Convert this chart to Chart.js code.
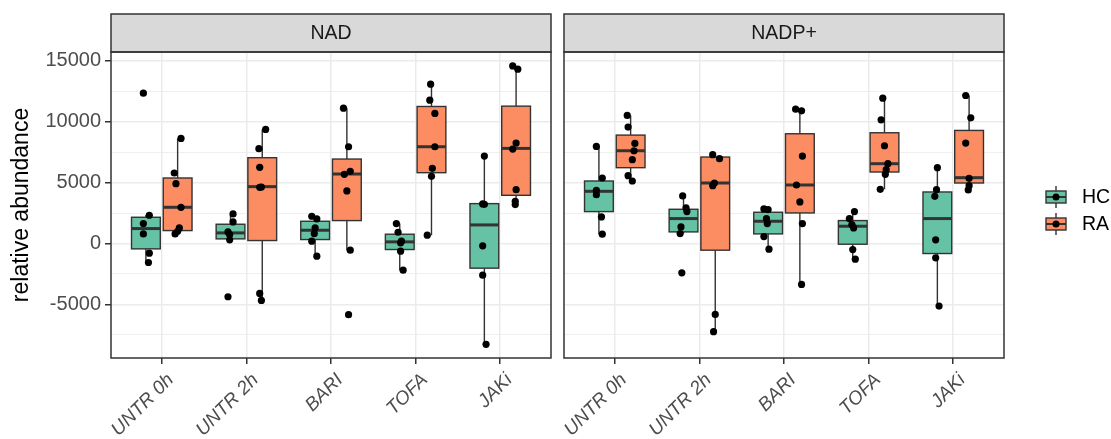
<!DOCTYPE html>
<html>
<head>
<meta charset="utf-8">
<script src="https://cdn.jsdelivr.net/npm/chart.js@4.4.1/dist/chart.umd.min.js"></script>
<style>
  body { margin: 0; background: #fff; }
  #wrap { position: relative; width: 1111px; height: 439px; }
  canvas { position: absolute; top: 0; }
</style>
</head>
<body>
<div id="wrap">
  <canvas id="nad" width="556" height="439" style="left:0"></canvas>
  <canvas id="nadp" width="555" height="439" style="left:556px"></canvas>
</div>
<script>
const categories = ["UNTR 0h", "UNTR 2h", "BARI", "TOFA", "JAKi"];
const groups = ["HC", "RA"];
const groupColors = ["#66c2a5", "#fc8d62"];
const yTicks = [-7500, -5000, -2500, 0, 2500, 5000, 7500, 10000, 12500, 15000];

// NAD, HC
const nadHcLow = [-1557, 301, -1038, -2186, -8278];
const nadHcQ1 = [-437, 383, 328, -492, -2022];
const nadHcMed = [1229, 874, 1093, 137, 1530];
const nadHcQ3 = [2158, 1585, 1830, 765, 3278];
const nadHcHigh = [2322, 2431, 2240, 1639, 7185];
const nadHcPoints = [
  [12349, 2322, 1639, 792, -792, -1557],
  [2431, 1775, 956, 738, 301, -4371],
  [2240, 2021, 1284, 820, 191, -1038],
  [1639, 929, 191, 55, -628, -2186],
  [7185, 3251, 3224, -191, -2595, -8278]
];
const nadHcJitter = [
  [-0.03, 0.04, -0.03, -0.03, 0.04, 0.03],
  [0.03, 0.03, -0.03, -0.01, -0.01, -0.03],
  [-0.04, 0.02, 0, -0.01, -0.04, 0.02],
  [-0.04, -0.02, 0.02, 0.01, 0.01, 0.04],
  [0, -0.02, 0, -0.02, -0.02, 0.02]
];

// NAD, RA
const nadRaLow = [792, -4672, -546, 683, 3196];
const nadRaQ1 = [1065, 246, 1885, 5819, 3961];
const nadRaMed = [2978, 4672, 5710, 7950, 7814];
const nadRaQ3 = [5382, 7049, 6939, 11256, 11283];
const nadRaHigh = [8633, 9371, 11119, 13086, 14589];
const nadRaPoints = [
  [8633, 5792, 4918, 2978, 1284, 1011, 792],
  [9371, 7787, 6256, 4645, 4617, -4098, -4672],
  [11119, 7950, 5928, 5682, 4317, -546, -5846],
  [13086, 11775, 10682, 7950, 6174, 5519, 683],
  [14589, 14316, 8251, 7759, 4426, 3470, 3196]
];
const nadRaJitter = [
  [0.04, -0.04, -0.02, 0.04, 0.02, 0, -0.03],
  [0.04, -0.04, -0.03, -0.01, -0.03, -0.03, -0.01],
  [-0.04, 0.02, 0.04, -0.03, 0, 0.04, 0.02],
  [-0.01, -0.02, 0.04, 0.04, 0.01, 0, -0.05],
  [-0.04, 0.02, 0, -0.04, 0, -0.01, -0.01]
];

// NADP+, HC
const nadpHcLow = [765, 820, -464, -1284, -5136];
const nadpHcQ1 = [2623, 956, 792, -55, -820];
const nadpHcMed = [4289, 2049, 1830, 1421, 2049];
const nadpHcQ3 = [5136, 2814, 2568, 1885, 4235];
const nadpHcHigh = [7977, 3907, 2841, 2623, 6229];
const nadpHcPoints = [
  [7977, 5382, 4371, 4016, 2186, 765],
  [3907, 2923, 2623, 1366, 820, -2404],
  [2841, 2786, 2049, 1639, 574, -464],
  [2623, 2049, 1557, 1284, -492, -1284],
  [6229, 4426, 3879, 301, -1175, -5136]
];
const nadpHcJitter = [
  [-0.03, 0.04, -0.03, -0.03, 0.03, 0.04],
  [-0.01, 0.03, 0.04, -0.03, -0.04, -0.02],
  [-0.05, 0, -0.02, -0.01, -0.05, 0.01],
  [0.02, -0.04, -0.01, 0.01, 0, 0.03],
  [0, -0.01, -0.03, -0.02, -0.02, 0.02]
];

// NADP+, RA
const nadpRaLow = [5136, -7240, -3360, 4453, 4399];
const nadpRaQ1 = [6229, -546, 2513, 5874, 4972];
const nadpRaMed = [7622, 4972, 4808, 6557, 5409];
const nadpRaQ3 = [8906, 7103, 9016, 9098, 9289];
const nadpRaHigh = [10518, 7294, 11037, 11939, 12157];
const nadpRaPoints = [
  [10518, 9562, 8223, 7622, 6885, 5573, 5136],
  [7294, 6967, 4972, 4754, -5819, -7240],
  [11037, 10901, 7185, 4808, 3415, 1639, -3360],
  [11939, 10163, 8032, 6557, 6065, 5683, 4453],
  [12157, 10327, 8251, 5355, 4754, 4399]
];
const nadpRaJitter = [
  [-0.04, -0.03, 0.05, 0.04, 0.02, -0.03, 0.02],
  [-0.03, 0.05, -0.01, -0.03, 0, -0.02],
  [-0.05, 0.02, 0.03, -0.04, 0, 0.03, 0.02],
  [-0.02, -0.04, 0, 0.04, 0.02, 0.01, -0.05],
  [-0.04, 0.02, -0.04, 0, 0, -0.01]
];

const FONT = "'Liberation Sans', Arial, sans-serif";
const DODGE = 0.1875;
const HALF = 0.17;

function makePoints(values, jitter, g) {
  const off = g === 0 ? -DODGE : DODGE;
  const pts = [];
  values.forEach((vals, i) => {
    vals.forEach((v, k) => pts.push({ x: i + 1 + off + jitter[i][k], y: v }));
  });
  return pts;
}

// boxes, whiskers and medians through the chart's own scales
const boxPlugin = {
  id: "boxes",
  beforeDatasetsDraw(chart, args, opts) {
    const { ctx, scales: { x, y } } = chart;
    ctx.save();
    opts.sets.forEach((s, g) => {
      const off = g === 0 ? -DODGE : DODGE;
      categories.forEach((c, i) => {
        const cx = x.getPixelForValue(i + 1 + off);
        const x0 = x.getPixelForValue(i + 1 + off - HALF);
        const x1 = x.getPixelForValue(i + 1 + off + HALF);
        const yLo = y.getPixelForValue(s.low[i]);
        const yQ1 = y.getPixelForValue(s.q1[i]);
        const yMed = y.getPixelForValue(s.med[i]);
        const yQ3 = y.getPixelForValue(s.q3[i]);
        const yHi = y.getPixelForValue(s.high[i]);
        ctx.strokeStyle = "#333333";
        ctx.lineWidth = 1.4;
        ctx.beginPath();
        ctx.moveTo(cx, yHi); ctx.lineTo(cx, yQ3);
        ctx.moveTo(cx, yQ1); ctx.lineTo(cx, yLo);
        ctx.stroke();
        ctx.fillStyle = groupColors[g];
        ctx.fillRect(x0, yQ3, x1 - x0, yQ1 - yQ3);
        ctx.strokeRect(x0, yQ3, x1 - x0, yQ1 - yQ3);
        ctx.lineWidth = 3;
        ctx.beginPath();
        ctx.moveTo(x0, yMed); ctx.lineTo(x1, yMed);
        ctx.stroke();
      });
    });
    ctx.restore();
  }
};

// strip header, panel border and (optionally) the legend
const panelPlugin = {
  id: "panel",
  afterDraw(chart, args, opts) {
    const { ctx, chartArea: a } = chart;
    ctx.save();
    ctx.fillStyle = "#d9d9d9";
    ctx.fillRect(a.left, 14, a.width, a.top - 14);
    ctx.strokeStyle = "#333333";
    ctx.lineWidth = 1.5;
    ctx.strokeRect(a.left, 14, a.width, a.top - 14);
    ctx.strokeRect(a.left, a.top, a.width, a.height);
    ctx.fillStyle = "#1a1a1a";
    ctx.font = "19.5px " + FONT;
    ctx.textAlign = "center";
    ctx.textBaseline = "middle";
    ctx.fillText(opts.title, (a.left + a.right) / 2, (14 + a.top) / 2 + 1);

    if (opts.legend) {
      const kx = a.right + 52;
      groups.forEach((g, i) => {
        const ky = 197 + i * 27;
        ctx.strokeStyle = "#333333";
        ctx.lineWidth = 1.4;
        ctx.beginPath();
        ctx.moveTo(kx, ky - 11); ctx.lineTo(kx, ky + 11);
        ctx.stroke();
        ctx.fillStyle = groupColors[i];
        ctx.fillRect(kx - 10, ky - 6, 20, 12);
        ctx.strokeRect(kx - 10, ky - 6, 20, 12);
        ctx.lineWidth = 2;
        ctx.beginPath();
        ctx.moveTo(kx - 10, ky); ctx.lineTo(kx + 10, ky);
        ctx.stroke();
        ctx.fillStyle = "#000";
        ctx.beginPath();
        ctx.arc(kx, ky, 3.5, 0, Math.PI * 2);
        ctx.fill();
        ctx.fillStyle = "#000";
        ctx.font = "19.5px " + FONT;
        ctx.textAlign = "left";
        ctx.fillText(g, kx + 26, ky + 1);
      });
    }
    ctx.restore();
  }
};

function renderPanel(canvasId, title, sets, points, showY, legend) {
  new Chart(document.getElementById(canvasId), {
    type: "scatter",
    data: {
      datasets: groups.map((g, i) => ({
        label: g,
        data: makePoints(points[i].values, points[i].jitter, i),
        backgroundColor: "#000",
        borderWidth: 0,
        pointRadius: 3.6,
        pointHoverRadius: 3.6
      }))
    },
    plugins: [boxPlugin, panelPlugin],
    options: {
      responsive: false,
      animation: false,
      devicePixelRatio: 1,
      layout: { padding: { left: showY ? 0 : 8, top: 52, right: showY ? 5 : 107, bottom: 0 } },
      plugins: {
        legend: { display: false },
        tooltip: { enabled: false },
        boxes: { sets: sets },
        panel: { title: title, legend: legend }
      },
      scales: {
        x: {
          type: "linear",
          min: 0.4,
          max: 5.6,
          afterBuildTicks: s => { s.ticks = categories.map((c, i) => ({ value: i + 1 })); },
          afterFit: s => { s.height = 81; s.paddingLeft = 0; s.paddingRight = 0; },
          border: { display: false },
          grid: { color: "#ebebeb", lineWidth: 1.5, tickColor: "#333333", tickLength: 6 },
          ticks: {
            callback: v => categories[v - 1],
            minRotation: 45,
            maxRotation: 45,
            padding: 5,
            labelOffset: 9,
            color: "#4d4d4d",
            font: { family: FONT, size: 19, style: "italic" }
          }
        },
        y: {
          min: -9400,
          max: 15730,
          afterBuildTicks: s => { s.ticks = yTicks.map(v => ({ value: v })); },
          afterFit: s => { s.width = showY ? 111 : 0; },
          border: { display: false },
          grid: {
            color: "#ebebeb",
            lineWidth: c => (c.tick && c.tick.value % 5000 === 0 ? 1.5 : 0.8),
            tickColor: c => (c.tick && c.tick.value % 5000 === 0 ? "#333333" : "rgba(0,0,0,0)"),
            tickLength: 6,
            drawTicks: showY
          },
          ticks: {
            display: showY,
            callback: v => (v % 5000 === 0 ? v : ""),
            padding: 4,
            color: "#4d4d4d",
            font: { family: FONT, size: 20 }
          },
          title: {
            display: showY,
            text: "relative abundance",
            color: "#000",
            padding: { top: 8, bottom: 0 },
            font: { family: FONT, size: 23 }
          }
        }
      }
    }
  });
}

renderPanel("nad", "NAD",
  [
    { low: nadHcLow, q1: nadHcQ1, med: nadHcMed, q3: nadHcQ3, high: nadHcHigh },
    { low: nadRaLow, q1: nadRaQ1, med: nadRaMed, q3: nadRaQ3, high: nadRaHigh }
  ],
  [
    { values: nadHcPoints, jitter: nadHcJitter },
    { values: nadRaPoints, jitter: nadRaJitter }
  ],
  true, false);

renderPanel("nadp", "NADP+",
  [
    { low: nadpHcLow, q1: nadpHcQ1, med: nadpHcMed, q3: nadpHcQ3, high: nadpHcHigh },
    { low: nadpRaLow, q1: nadpRaQ1, med: nadpRaMed, q3: nadpRaQ3, high: nadpRaHigh }
  ],
  [
    { values: nadpHcPoints, jitter: nadpHcJitter },
    { values: nadpRaPoints, jitter: nadpRaJitter }
  ],
  false, true);
</script>
</body>
</html>
